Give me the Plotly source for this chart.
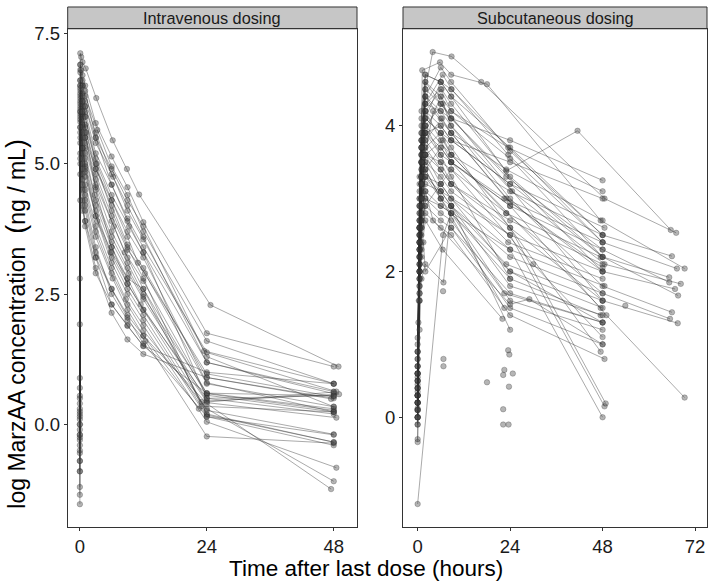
import plotly.graph_objects as go

# ---------------- DATA ----------------
panel_titles = ["Intravenous dosing", "Subcutaneous dosing"]
x_title = "Time after last dose (hours)"
y_title = ("log MarzAA concentration\u00a0 <span style='font-size:27px'>(</span>ng / mL"
           "<span style='font-size:27px'>)</span>")

iv_x_ticks = [0, 24, 48]
iv_y_ticks = [0, 2.5, 5.0, 7.5]
iv_y_ticktext = ["0.0", "2.5", "5.0", "7.5"]
sc_x_ticks = [0, 24, 48, 72]
sc_y_ticks = [0, 2, 4]

# Intravenous subjects: time (h) and log concentration
iv_times = [
    [0, 0.08, 0.25, 0.5, 1.1, 3.1, 6.2, 8.9, 11.2, 24.7, 48.9],
    [0, 0.08, 0.5, 1, 3, 6, 9, 12, 24, 48],
    [0, 0.1, 0.5, 1, 3.3, 6, 9, 12, 24, 48],
    [0, 0.08, 0.5, 1, 3, 6.3, 9, 12, 23.5, 48],
    [0.08, 0.5, 1, 3, 6, 9, 12, 24, 48.5],
    [0, 0.1, 0.5, 1, 3, 6, 9.3, 12, 24, 48],
    [0, 0.08, 0.5, 1, 3.2, 6, 9, 11, 24, 48],
    [0, 0.08, 0.5, 1, 3, 6, 9, 12, 24, 47.5],
    [0, 0.1, 0.5, 1.2, 3, 6, 9, 12.3, 24, 48],
    [0, 0.08, 0.5, 1, 3, 6, 8.5, 12, 24, 48],
    [0, 0.08, 0.5, 1, 3, 6.4, 9, 12, 24, 48],
    [0, 0.1, 0.5, 1, 3, 6, 9, 12, 23, 48.5],
    [0, 0.08, 0.5, 1, 2.8, 6, 9, 12, 24, 48],
    [0, 0.08, 0.5, 1, 3, 6, 9.2, 12, 24, 49],
    [0, 0.1, 0.5, 1, 3, 6, 9, 11.5, 24, 48],
    [0, 0.08, 0.5, 1, 3, 5.8, 9, 12, 24, 48],
    [0, 0.08, 0.5, 1, 3, 6, 9, 12, 24, 48],
    [0, 0.1, 0.5, 1, 3.3, 6, 9, 12, 24, 48],
    [0, 0.08, 0.5, 1, 3, 6, 8.7, 12, 24, 48.5],
    [0, 0.08, 0.5, 1, 3, 6, 9, 12, 24, 48],
    [0, 0.1, 0.5, 1, 3, 6.2, 9, 12, 24, 47.5],
    [0, 0.08, 0.5, 1, 3, 6, 9, 12.4, 24, 48],
    [0, 0.08, 0.5, 1, 3, 6, 9, 12, 24, 48],
    [0, 0.1, 0.5, 1, 3, 6, 9, 12, 24, 48],
    [0.08, 0.5, 1, 3, 6, 9, 12, 24, 48],
    [0.08, 0.5, 1, 3, 6, 9, 12, 24, 48],
    [0.08, 0.5, 1, 3, 6, 9, 12, 24, 48],
    [0, 0.08, 0.5, 1, 3, 6, 9, 12, 24, 48],
    [0, 0.08, 0.5, 1, 3, 6, 9, 12, 24, 48],
    [0, 0.08, 0.5, 1, 3, 6, 9, 12, 22.5],
    [0, 0.08, 0.5, 1, 3, 6, 9, 12, 23, 48],
    [0, 0.08, 0.5, 1, 3, 6, 9, 12, 24, 48],
    [0.08, 0.25, 0.5, 1, 3, 6, 9, 12, 24, 48],
    [0, 0.08, 0.5, 1, 3, 6, 9, 12, 24, 48],
]
iv_conc = [
    [-1.53, 7.12, 7.05, 6.95, 6.83, 6.26, 5.45, 4.90, 4.41, 2.29, 1.11],
    [-1.2, 6.9, 6.7, 6.5, 5.78, 5.14, 4.55, 3.88, 1.75, 1.11],
    [-0.9, 6.75, 6.5, 6.3, 5.65, 4.95, 4.4, 3.7, 1.60, 0.78],
    [-0.7, 6.6, 6.35, 6.1, 5.4, 4.75, 4.1, 3.55, 1.41, 0.78],
    [6.5, 6.2, 6.0, 5.2, 4.6, 3.95, 3.4, 1.38, 0.63],
    [-0.55, 6.4, 6.1, 5.9, 5.1, 4.4, 3.8, 3.3, 1.19, 0.59],
    [-0.5, 6.35, 6.0, 5.75, 5.0, 4.3, 3.6, 3.1, 0.97, 0.53],
    [-0.4, 6.3, 5.95, 5.7, 4.9, 4.2, 3.45, 3.0, 0.90, 0.49],
    [-0.3, 6.25, 5.9, 5.6, 4.8, 4.0, 3.35, 2.9, 0.78, 0.34],
    [-0.25, 6.2, 5.8, 5.5, 4.7, 3.9, 3.3, 2.75, 0.59, 0.27],
    [-0.2, 6.15, 5.7, 5.4, 4.6, 3.8, 3.2, 2.6, 0.56, 0.24],
    [-0.2, 6.1, 5.6, 5.3, 4.55, 3.7, 3.1, 2.5, 0.43, 0.13],
    [-0.1, 6.05, 5.5, 5.2, 4.4, 3.6, 3.0, 2.45, 0.60, 0.55],
    [0.0, 6.0, 5.4, 5.1, 4.3, 3.5, 2.9, 2.4, 0.45, 0.58],
    [0.1, 5.95, 5.3, 5.0, 4.2, 3.4, 2.8, 2.3, 0.43, 0.62],
    [0.15, 5.9, 5.3, 4.95, 4.1, 3.3, 2.7, 2.2, 0.27, -0.19],
    [0.2, 5.85, 5.2, 4.85, 4.0, 3.2, 2.6, 2.1, 0.18, -0.34],
    [0.25, 5.8, 5.1, 4.75, 3.9, 3.1, 2.5, 2.0, 0.15, -0.40],
    [0.3, 5.7, 5.0, 4.6, 3.8, 3.0, 2.4, 1.9, 0.05, -0.83],
    [0.4, 5.6, 4.9, 4.5, 3.7, 2.9, 2.3, 1.8, 0.3, -1.09],
    [0.5, 5.5, 4.8, 4.4, 3.6, 2.8, 2.2, 1.7, 0.4, -1.24],
    [0.55, 5.4, 4.7, 4.3, 3.4, 2.5, 2.0, 1.6, -0.23, -0.36],
    [0.7, 5.2, 4.5, 4.1, 3.2, 2.3, 1.9, 1.5, 0.6, 0.3],
    [0.89, 5.0, 4.3, 3.9, 3.0, 2.14, 1.63, 1.35, 0.9, 0.5],
    [4.8, 4.2, 3.8, 2.9, 2.3, 1.89, 1.51, 1.0, 0.78],
    [6.8, 6.5, 6.2, 5.6, 4.8, 4.2, 3.6, 1.19, 0.63],
    [6.5, 6.3, 6.1, 5.5, 4.9, 4.3, 3.8, 1.3, 0.34],
    [-1.35, 6.0, 5.75, 5.5, 4.9, 4.3, 3.7, 3.2, 0.8, 0.24],
    [1.92, 5.7, 5.3, 4.9, 4.0, 3.3, 2.8, 2.6, 0.2, -0.34],
    [2.8, 4.3, 4.1, 3.9, 3.2, 2.6, 2.1, 1.7, 0.3],
    [-0.9, 6.6, 6.2, 5.9, 5.0, 4.1, 3.4, 2.8, 0.35, 0.24],
    [-0.7, 6.45, 6.0, 5.6, 4.5, 3.4, 2.7, 2.2, 0.5, 0.2],
    [6.9, 6.8, 6.6, 6.4, 5.5, 4.6, 3.9, 3.3, 0.5, 0.55],
    [0.0, 5.1, 4.6, 4.2, 3.3, 2.6, 2.05, 1.55, 0.15, -0.2],
]

# Subcutaneous subjects
sc_times = [
    [0, 0.5, 1, 2, 3.9, 8.8, 16.5, 48.5, 67.1],
    [0, 0.5, 1, 1.2, 5.8, 8.7, 18, 47.5, 69.3],
    [0, 0.5, 1, 2, 6.2, 8.7, 23, 41.5, 65.7],
    [0, 0.5, 1, 2, 6, 8.7, 24, 48, 66],
    [0, 0.5, 1, 2, 6.5, 8.8, 23.5, 48, 67.3],
    [0, 0.5, 1, 2, 6, 8.7, 24, 48, 65.3],
    [0, 0.5, 1, 2, 6.5, 8.7, 23, 48, 65.3],
    [0, 0.5, 1, 2, 6, 8.7, 24.5, 48.5, 68.3],
    [0, 0.5, 1, 2, 6.3, 8.7, 23, 48, 66.8],
    [0, 0.5, 1, 2, 6, 8.7, 24, 48, 67.6],
    [0, 0.5, 1, 2, 6, 8.6, 24, 48, 66],
    [0, 0.5, 1, 2, 6.5, 8.8, 23, 48, 65.5],
    [0, 0.5, 1, 2, 6, 8.7, 24, 48, 67.5],
    [0, 0.5, 1, 2, 6, 8.7, 24, 49, 69.3],
    [0, 0.5, 1, 2, 6, 8.7, 24, 48],
    [0, 0.5, 1, 2, 6, 8.7, 23.5, 48],
    [0, 0.5, 1, 2, 6, 8.7, 24, 48],
    [0, 0.5, 1, 2, 6, 8.7, 23, 48],
    [0, 0.5, 1, 2, 6, 8.7, 24, 48.5],
    [0, 0.5, 1, 2, 6, 8.7, 24, 48],
    [0, 0.5, 1, 2, 6, 8.7, 22.5, 48],
    [0, 0.5, 1, 2, 6, 8.7, 24, 48],
    [0, 0.5, 1, 2, 6, 8.7, 23, 47.5],
    [0, 0.5, 1, 2, 6, 8.7, 24, 48],
    [0, 0.5, 1, 2, 6, 8.7, 24, 48],
    [0, 0.5, 1, 2, 6, 8.7, 23.5, 48],
    [0, 0.5, 1, 2, 6, 8.7, 24, 48.5],
    [0, 0.5, 1, 2, 6, 8.7, 24, 48],
    [0, 0.5, 1, 2, 6, 8.7, 23, 48],
    [0, 0.5, 1, 2, 6, 8.7, 24, 48],
    [0, 0.5, 1, 2, 6, 8.7, 24, 47.5],
    [0, 0.5, 1, 2, 6, 8.7, 24, 48],
    [0, 0.5, 1, 2, 6, 8.7, 22.5, 48],
    [0, 0.5, 1, 2, 6, 8.7, 24, 48],
    [0, 0.5, 1, 2, 6, 8.7, 24, 48],
    [0, 0.5, 1, 2, 6, 8.7, 24, 48.5],
    [0, 0.5, 1, 2, 6, 8.7, 48],
    [0, 0.5, 1, 2, 6, 8.7, 48],
    [0, 0.5, 1, 2, 6, 48],
    [0, 0.5, 1, 2, 8.7, 47.5],
    [0, 0.5, 1, 2, 6, 8.7, 47.5],
    [0, 0.5, 1, 2, 6, 8.7, 24],
    [0, 0.5, 1, 2, 6, 22.5],
    [0, 0.5, 1, 2, 6.5, 22],
    [0, 0.5, 1, 2, 4, 24, 29, 48],
    [0, 6.6, 8.7, 24, 48],
    [0, 0.5, 1, 2, 6, 24, 48],
    [0, 0.5, 1, 2, 6, 24, 48.5],
    [0, 0.5, 1, 2, 6, 8.7, 24, 48.8],
    [0.2, 0.5, 1, 2, 6, 8.7, 24, 48],
    [0, 0.5, 1, 1.5, 2, 8.7, 24, 48],
    [0, 0.5, 1, 2, 6, 8.7, 30, 48],
    [0, 0.5, 1, 2, 6.7, 8.7, 24],
    [0, 0.5, 1, 2, 4, 8.7, 24, 48],
    [0.3, 0.5, 1, 2, 6, 8.7, 24, 48],
]
sc_conc = [
    [0.3, 2.9, 3.8, 4.5, 5.01, 4.95, 4.6, 3.0, 2.53],
    [0.5, 3.0, 4.0, 4.76, 4.87, 4.7, 4.57, 2.7, 2.04],
    [0.9, 2.6, 3.5, 4.2, 4.5, 4.3, 3.38, 3.93, 2.57],
    [0.0, 2.2, 3.3, 4.1, 4.6, 4.4, 3.7, 2.5, 2.21],
    [0.6, 2.4, 3.4, 4.3, 4.7, 4.5, 3.6, 2.4, 2.04],
    [-0.1, 2.0, 3.0, 3.9, 4.4, 4.2, 3.55, 2.2, 1.92],
    [0.3, 2.5, 3.5, 4.0, 4.3, 4.1, 3.3, 2.3, 1.85],
    [1.0, 3.1, 3.9, 4.4, 4.2, 4.0, 3.1, 2.1, 1.83],
    [0.2, 2.3, 3.3, 3.8, 4.1, 3.9, 3.0, 2.0, 1.76],
    [0.4, 2.7, 3.6, 4.1, 3.9, 3.8, 3.2, 2.2, 1.67],
    [0.7, 2.6, 3.7, 4.6, 4.4, 4.0, 3.0, 1.8, 1.44],
    [0.1, 1.9, 2.9, 3.6, 3.8, 3.6, 2.8, 1.7, 1.35],
    [0.5, 2.4, 3.3, 3.9, 3.7, 3.5, 2.6, 1.6, 1.29],
    [-0.3, 1.6, 2.7, 3.4, 3.7, 3.5, 2.9, 1.4, 0.27],
    [0.8, 3.2, 4.1, 4.6, 4.3, 4.1, 3.8, 3.25],
    [0.3, 2.9, 3.8, 4.3, 4.5, 4.2, 3.7, 3.1],
    [0.0, 2.5, 3.6, 4.2, 4.0, 3.8, 3.5, 3.0],
    [0.6, 2.8, 3.7, 4.4, 4.1, 3.9, 3.4, 2.7],
    [0.2, 2.2, 3.2, 3.9, 4.0, 3.8, 3.2, 2.6],
    [-0.1, 2.0, 3.0, 3.7, 3.9, 3.6, 3.1, 2.5],
    [0.4, 2.6, 3.5, 3.9, 3.6, 3.5, 3.0, 2.4],
    [0.9, 3.0, 3.8, 4.2, 3.8, 3.5, 2.9, 2.3],
    [0.1, 2.1, 3.1, 3.6, 3.5, 3.4, 2.8, 2.2],
    [0.55, 2.4, 3.3, 3.7, 3.4, 3.2, 2.7, 2.1],
    [0.3, 2.3, 3.2, 3.5, 3.3, 3.1, 2.5, 2.0],
    [0.7, 2.7, 3.4, 3.8, 3.5, 3.2, 2.4, 1.9],
    [0.2, 2.0, 2.9, 3.3, 3.2, 3.0, 2.3, 1.8],
    [0.45, 2.2, 3.0, 3.4, 3.0, 2.9, 2.2, 1.7],
    [0.0, 1.8, 2.7, 3.2, 3.1, 2.9, 2.1, 1.6],
    [0.6, 2.5, 3.2, 3.6, 3.2, 3.0, 2.0, 1.5],
    [0.3, 2.1, 2.8, 3.1, 2.9, 2.8, 1.9, 1.4],
    [0.8, 2.6, 3.3, 3.5, 3.1, 2.9, 1.8, 1.4],
    [0.1, 1.9, 2.6, 3.0, 2.8, 2.7, 1.7, 1.3],
    [0.5, 2.3, 3.0, 3.3, 3.0, 2.8, 1.6, 1.2],
    [0.35, 2.0, 2.7, 2.9, 2.7, 2.6, 1.5, 1.0],
    [0.2, 1.7, 2.5, 2.8, 2.6, 2.5, 1.4, 0.8],
    [0.4, 2.8, 3.9, 4.7, 4.6, 4.5, 2.4],
    [0.1, 2.4, 3.5, 4.3, 4.2, 4.1, 2.0],
    [0.6, 2.6, 3.7, 4.5, 4.3, 1.6],
    [0.3, 2.3, 3.3, 4.0, 3.6, 1.5],
    [0.5, 2.7, 3.6, 4.1, 3.9, 3.7, 0.9],
    [0.2, 2.5, 3.5, 4.0, 3.6, 3.3, 1.9],
    [0.7, 2.6, 3.2, 3.4, 3.0, 1.5],
    [0.0, 1.6, 2.3, 2.7, 2.3, 1.35],
    [1.09, 2.2, 2.8, 3.1, 2.7, 1.55, 1.62, 1.0],
    [-1.19, 2.5, 2.8, 2.0, 1.3],
    [0.2, 1.9, 2.6, 3.0, 2.9, 2.3, 0.0],
    [0.4, 2.1, 2.9, 3.3, 3.1, 2.5, 0.15],
    [0.6, 2.4, 3.2, 3.6, 3.4, 3.2, 2.6, 0.19],
    [1.3, 2.9, 3.7, 4.4, 4.8, 4.6, 3.65, 2.5],
    [0.9, 1.8, 2.2, 2.4, 2.0, 2.6, 1.7, 1.3],
    [0.0, 1.7, 2.4, 2.9, 3.2, 3.4, 2.1, 1.1],
    [-0.34, 1.2, 1.9, 2.1, 1.85, 2.9, 1.2],
    [0.12, 2.0, 3.0, 3.6, 4.2, 3.9, 2.95, 2.05],
    [1.6, 3.3, 4.2, 4.7, 4.6, 4.4, 3.3, 2.2],
]

# Subcutaneous single, unconnected observations
sc_single_times = [6.7, 6.7, 6.6, 18, 22.5, 23.5, 22.2, 23.8, 24.7, 23.7, 22.2, 22.2, 23.6, 53.9]
sc_single_conc = [0.80, 0.70, 1.73, 0.48, 0.65, 0.92, 0.11, 0.86, 0.60, 0.42, -0.10, 0.58, -0.10, 1.53]

# ---------------- FIGURE ----------------
FONT = "Liberation Sans, Arial, sans-serif"
LINE_COL = "rgba(45,45,45,0.45)"
MARK_COL = "rgba(70,70,70,0.40)"
MARK_EDGE = "rgba(40,40,40,0.45)"

fig = go.Figure()


def add_subject(t, y, xa, ya):
    pts = [(a, b) for a, b in zip(t, y) if b is not None]
    fig.add_trace(go.Scatter(
        x=[p[0] for p in pts], y=[p[1] for p in pts],
        mode="lines+markers", xaxis=xa, yaxis=ya,
        line=dict(color=LINE_COL, width=0.9),
        marker=dict(size=5.5, color=MARK_COL, line=dict(width=0.6, color=MARK_EDGE)),
        showlegend=False, hoverinfo="skip"))


for t, y in zip(iv_times, iv_conc):
    add_subject(t, y, "x", "y")
for t, y in zip(sc_times, sc_conc):
    add_subject(t, y, "x2", "y2")

fig.add_trace(go.Scatter(
    x=sc_single_times, y=sc_single_conc, mode="markers", xaxis="x2", yaxis="y2",
    marker=dict(size=5.5, color=MARK_COL, line=dict(width=0.6, color=MARK_EDGE)),
    showlegend=False, hoverinfo="skip"))

W, H = 709, 584
L_dom = [67.7 / W, 357 / W]
R_dom = [403 / W, 707 / W]
Y_dom = [1 - 526 / H, 1 - 23 / H]
strip_top = 1 - 1 / H

axis_common = dict(
    showline=True, mirror=True, linecolor="#333333", linewidth=1,
    ticks="outside", ticklen=3, tickwidth=1, tickcolor="#333333",
    showgrid=False, zeroline=False,
    tickfont=dict(family=FONT, size=18.5, color="#1a1a1a"),
)

fig.update_layout(
    width=W, height=H,
    margin=dict(l=0, r=0, t=0, b=0),
    paper_bgcolor="white", plot_bgcolor="white",
    font=dict(family=FONT),
    xaxis=dict(domain=L_dom, range=[-2.3, 52.4], tickvals=iv_x_ticks, anchor="y", **axis_common),
    yaxis=dict(domain=Y_dom, range=[-1.96, 7.59], tickvals=iv_y_ticks, ticktext=iv_y_ticktext,
               anchor="x", **axis_common),
    xaxis2=dict(domain=R_dom, range=[-3.8, 75.1], tickvals=sc_x_ticks, anchor="y2", **axis_common),
    yaxis2=dict(domain=Y_dom, range=[-1.5, 5.33], tickvals=sc_y_ticks, anchor="x2", **axis_common),
    shapes=[
        dict(type="rect", xref="paper", yref="paper", x0=L_dom[0], x1=L_dom[1],
             y0=Y_dom[1], y1=strip_top, fillcolor="#c6c6c6", line=dict(color="#333333", width=1),
             layer="below"),
        dict(type="rect", xref="paper", yref="paper", x0=R_dom[0], x1=R_dom[1],
             y0=Y_dom[1], y1=strip_top, fillcolor="#c6c6c6", line=dict(color="#333333", width=1),
             layer="below"),
    ],
    annotations=[
        dict(text=panel_titles[0], xref="paper", yref="paper", x=sum(L_dom) / 2,
             y=(Y_dom[1] + strip_top) / 2, showarrow=False, xanchor="center", yanchor="middle",
             font=dict(family=FONT, size=16.3, color="#1a1a1a")),
        dict(text=panel_titles[1], xref="paper", yref="paper", x=sum(R_dom) / 2,
             y=(Y_dom[1] + strip_top) / 2, showarrow=False, xanchor="center", yanchor="middle",
             font=dict(family=FONT, size=16.3, color="#1a1a1a")),
        dict(text=x_title, xref="paper", yref="paper", x=365.5 / W, y=1 - 568 / H,
             showarrow=False, xanchor="center", yanchor="middle",
             font=dict(family=FONT, size=22.5, color="#000000")),
        dict(text=y_title, xref="paper", yref="paper", x=16 / W, y=1 - 321 / H,
             showarrow=False, xanchor="center", yanchor="middle", textangle=-90,
             font=dict(family=FONT, size=23, color="#000000")),
    ],
)

fig.write_html("out.html", config={"displayModeBar": False},
               post_script="document.body.style.margin='0px';")
